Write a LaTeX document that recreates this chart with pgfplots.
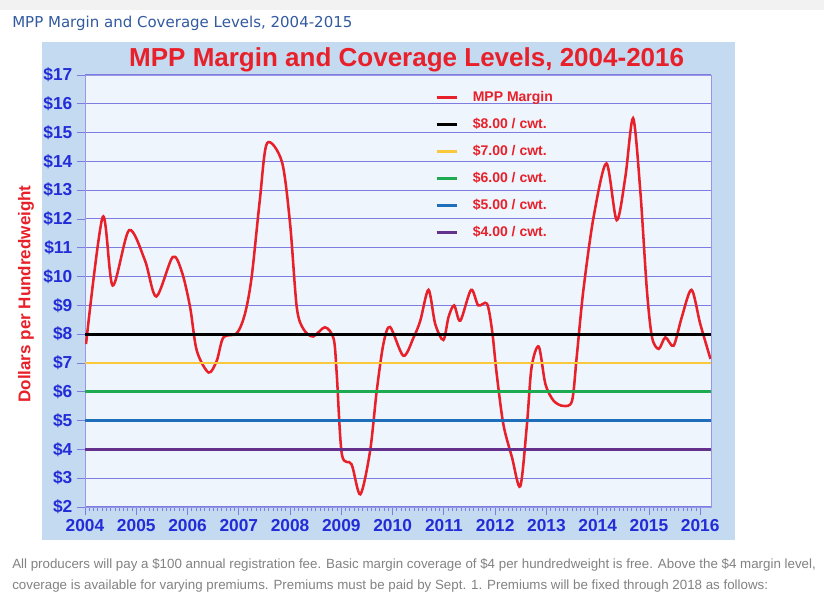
\documentclass[border=0pt]{standalone}
\usepackage{fontspec}
\setmainfont{Liberation Sans}
\newfontfamily\headfont{DejaVu Sans}
\usepackage{pgfplots}
\pgfplotsset{compat=1.18}

\definecolor{mppred}{RGB}{232,32,42}
\definecolor{tickblue}{RGB}{35,45,215}
\definecolor{gridpurple}{RGB}{125,125,225}
\definecolor{panelblue}{RGB}{196,218,240}
\definecolor{plotbg}{RGB}{238,245,252}
\definecolor{lvlgold}{RGB}{250,200,60}
\definecolor{lvlgreen}{RGB}{30,170,80}
\definecolor{lvlblue}{RGB}{30,110,185}
\definecolor{lvlpurple}{RGB}{100,50,140}
\definecolor{headblue}{RGB}{50,90,160}
\definecolor{notegrey}{RGB}{130,130,130}

\begin{document}
\begin{tikzpicture}
% page is 824 x 603 px, 1px = 0.75pt
\useasboundingbox (0,0) rectangle (618pt,452.25pt);
\fill[white] (0,0) rectangle (618pt,452.25pt);
\fill[black!5] (0,444.75pt) rectangle (618pt,452.25pt);
\node[anchor=west, font=\headfont\fontsize{11.25}{13}\selectfont, text=headblue, inner sep=0pt]
  at (9pt,435pt) {MPP Margin and Coverage Levels, 2004-2015};
\fill[panelblue] (31.5pt,47.25pt) rectangle (551.25pt,420.75pt);
\node[font=\bfseries\fontsize{19.5}{21}\selectfont, text=mppred, inner sep=0pt]
  at (305pt,407.25pt) {MPP Margin and Coverage Levels, 2004-2016};
\node[rotate=90, font=\bfseries\fontsize{12.75}{14}\selectfont, text=mppred, inner sep=0pt]
  at (19.5pt,231.75pt) {Dollars per Hundredweight};

\begin{axis}[
  at={(63.75pt,72pt)}, anchor=south west,
  scale only axis, width=469.5pt, height=324pt,
  xmin=2004, xmax=2016.21, ymin=2, ymax=17,
  axis background/.style={fill=plotbg},
  axis line style={draw=gridpurple!80},
  xtick={2004,2005,2006,2007,2008,2009,2010,2011,2012,2013,2014,2015,2016},
  xticklabels={2004,2005,2006,2007,2008,2009,2010,2011,2012,2013,2014,2015,2016},
  minor x tick num=11,
  ytick={2,3,4,5,6,7,8,9,10,11,12,13,14,15,16,17},
  yticklabels={\$2,\$3,\$4,\$5,\$6,\$7,\$8,\$9,\$10,\$11,\$12,\$13,\$14,\$15,\$16,\$17},
  xtick pos=left, ytick pos=left,
  tick align=outside,
  major tick length=6pt, minor tick length=3pt,
  tick style={gridpurple, line width=0.6pt},
  ymajorgrids,
  grid style={gridpurple, line width=0.75pt},
  ticklabel style={font=\bfseries\fontsize{13}{15}\selectfont, text=tickblue},
  legend style={at={(0.559,0.965)}, anchor=north west, draw=none, fill=none,
    inner sep=0pt, row sep=9.25pt,
    font=\bfseries\fontsize{10.5}{12}\selectfont, text=mppred,
    nodes={inner sep=0pt, text height=8.5pt, text depth=2.5pt},
    /tikz/every odd column/.append style={column sep=11pt}},
  legend image code/.code={\draw[#1] (0pt,0pt) -- (15pt,0pt);},
  legend cell align=left,
]
\addplot[mppred, line width=1.9pt, smooth] coordinates {
(2004.02,7.66) (2004.345,12.07) (2004.54,9.69) (2004.86,11.61) (2005.17,10.56)
(2005.39,9.31) (2005.71,10.68) (2005.89,10.16) (2006.05,8.94) (2006.18,7.43)
(2006.41,6.67) (2006.57,7.08) (2006.7,7.89) (2006.96,8.03) (2007.12,8.71)
(2007.25,9.98) (2007.41,12.66) (2007.55,14.63) (2007.84,13.99) (2008.0,11.84)
(2008.13,8.94) (2008.26,8.18) (2008.45,7.92) (2008.68,8.24) (2008.85,7.84)
(2008.91,6.62) (2009.01,3.83) (2009.2,3.48) (2009.37,2.44) (2009.56,3.94)
(2009.69,6.03) (2009.82,7.66) (2009.95,8.25) (2010.21,7.25) (2010.41,7.89)
(2010.54,8.47) (2010.7,9.54) (2010.83,8.36) (2010.99,7.8) (2011.09,8.59)
(2011.2,9.0) (2011.32,8.47) (2011.53,9.54) (2011.67,9.0) (2011.84,9.06)
(2011.94,8.13) (2012.03,6.62) (2012.16,4.87) (2012.33,3.71) (2012.49,2.72)
(2012.62,4.87) (2012.71,6.85) (2012.85,7.57) (2012.98,6.27) (2013.14,5.69)
(2013.33,5.51) (2013.5,5.69) (2013.59,7.2) (2013.72,9.52) (2013.92,12.07)
(2014.17,13.93) (2014.37,11.96) (2014.54,13.47) (2014.69,15.5) (2014.83,13.0)
(2014.96,9.52) (2015.06,7.89) (2015.19,7.49) (2015.32,7.89) (2015.48,7.6)
(2015.64,8.59) (2015.83,9.54) (2016.0,8.36) (2016.2,7.14)
};
\addlegendentry{MPP Margin}
\addplot[black, line width=2.2pt] coordinates {(2004,8) (2016.21,8)};
\addlegendentry{\$8.00 / cwt.}
\addplot[lvlgold, line width=2.2pt] coordinates {(2004,7) (2016.21,7)};
\addlegendentry{\$7.00 / cwt.}
\addplot[lvlgreen, line width=2.2pt] coordinates {(2004,6) (2016.21,6)};
\addlegendentry{\$6.00 / cwt.}
\addplot[lvlblue, line width=2.2pt] coordinates {(2004,5) (2016.21,5)};
\addlegendentry{\$5.00 / cwt.}
\addplot[lvlpurple, line width=2.2pt] coordinates {(2004,4) (2016.21,4)};
\addlegendentry{\$4.00 / cwt.}
\end{axis}

\node[anchor=west, font=\fontsize{10}{12}\selectfont, text=notegrey, inner sep=0pt]
  at (9pt,28.5pt) {All producers will pay a \$100 annual registration fee. Basic margin coverage of \$4 per hundredweight is free. Above the \$4 margin level,};
\node[anchor=west, font=\fontsize{10}{12}\selectfont, text=notegrey, inner sep=0pt]
  at (9pt,12.75pt) {coverage is available for varying premiums. Premiums must be paid by Sept. 1. Premiums will be fixed through 2018 as follows:};
\end{tikzpicture}
\end{document}
